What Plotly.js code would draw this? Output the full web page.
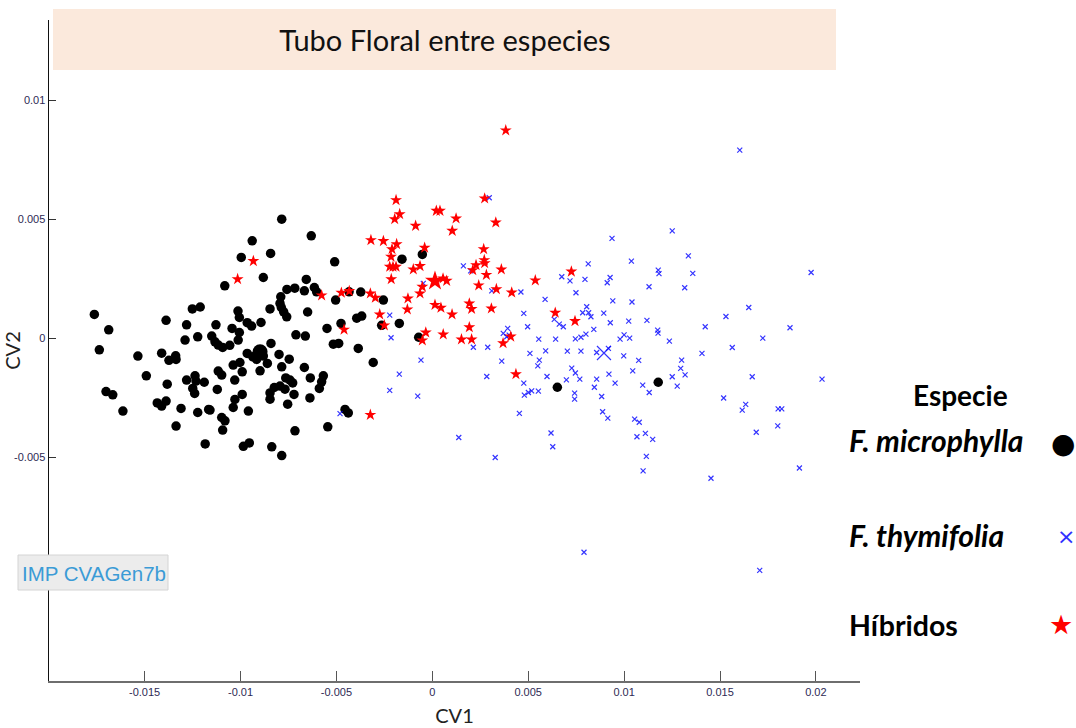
<!DOCTYPE html>
<html>
<head>
<meta charset="utf-8">
<script src="https://cdn.plot.ly/plotly-3.0.1.min.js"></script>
<style>
  html, body { margin: 0; padding: 0; background: #ffffff; }
  #chart { width: 1076px; height: 728px; }
</style>
</head>
<body>
<div id="chart"></div>
<script>
// Canonical variate scores (CV1, CV2) of floral tube shape, by group
const microX = [-0.01762,-0.01687,-0.01736,-0.01535,-0.01491,-0.01701,-0.01666,-0.01613,-0.01411,-0.01388,
  -0.01373,-0.01338,-0.01336,-0.01382,-0.01434,-0.01411,-0.01388,-0.01336,-0.01310,-0.01281,
  -0.01251,-0.01210,-0.01289,-0.01223,-0.01281,-0.01237,-0.01232,-0.01249,-0.01239,-0.01189,
  -0.01223,-0.01166,-0.01128,-0.01150,-0.01133,-0.01116,-0.01121,-0.01184,-0.00785,-0.00631,
  -0.00939,-0.00843,-0.00996,-0.00509,-0.00881,-0.01082,-0.00657,-0.00758,-0.00717,-0.00667,
  -0.00615,-0.00603,-0.00790,-0.00794,-0.00787,-0.00775,-0.00759,-0.00846,-0.00650,-0.00504,
  -0.00373,-0.00434,-0.01013,-0.01006,-0.00965,-0.00942,-0.00893,-0.01044,-0.01006,-0.01012,
  -0.01116,-0.01093,-0.01056,-0.00711,-0.00662,-0.00549,-0.00476,-0.00394,-0.00368,-0.00516,
  -0.00488,-0.00386,-0.00841,-0.00965,-0.00936,-0.00916,-0.00881,-0.00799,-0.00746,-0.00860,
  -0.00785,-0.00667,-0.00898,-0.01003,-0.00991,-0.01038,-0.01098,-0.01030,-0.00764,-0.00742,
  -0.00728,-0.00636,-0.00568,-0.00577,-0.00589,-0.00824,-0.00794,-0.00768,-0.00846,-0.00846,
  -0.00721,-0.00754,-0.00638,-0.00991,-0.01029,-0.01038,-0.01159,-0.00959,-0.01098,-0.01081,
  -0.01093,-0.00716,-0.00545,-0.00455,-0.00438,-0.00985,-0.00954,-0.00837,-0.00785,-0.00308,
  -0.00158,-0.00052,-0.00255,-0.00264,-0.00172,-0.00071,0.00652,0.01178];
const microY = [0.00101,0.00036,-0.00048,-0.00074,-0.00157,-0.00223,-0.00237,-0.00305,-0.00062,0.00076,
  -0.00092,-0.00073,-0.00088,-0.00192,-0.00271,-0.00284,-0.00263,-0.00368,-0.00294,0.00057,
  0.00124,0.00132,-0.00007,0.00007,-0.00175,-0.00157,-0.00179,-0.00210,-0.00231,-0.00184,
  -0.00311,-0.00298,0.00057,0.00010,-0.00014,-0.00137,-0.00214,-0.00443,0.00501,0.00431,
  0.00410,0.00357,0.00340,0.00322,0.00256,0.00221,0.00248,0.00206,0.00211,0.00200,
  0.00214,0.00196,0.00175,0.00147,0.00130,0.00112,0.00091,0.00124,0.00111,0.00161,
  0.00195,0.00196,0.00115,0.00088,0.00066,0.00052,0.00067,0.00042,0.00025,-0.00007,
  -0.00028,-0.00038,-0.00029,0.00015,0.00010,0.00042,0.00063,0.00085,0.00094,-0.00024,
  -0.00021,-0.00042,-0.00021,-0.00063,-0.00077,-0.00088,-0.00074,-0.00067,-0.00087,-0.00105,
  -0.00119,-0.00122,-0.00136,-0.00101,-0.00140,-0.00112,-0.00154,-0.00175,-0.00166,-0.00175,
  -0.00187,-0.00166,-0.00157,-0.00182,-0.00210,-0.00206,-0.00200,-0.00213,-0.00229,-0.00255,
  -0.00235,-0.00276,-0.00250,-0.00235,-0.00256,-0.00290,-0.00301,-0.00305,-0.00332,-0.00346,
  -0.00385,-0.00388,-0.00371,-0.00298,-0.00313,-0.00453,-0.00439,-0.00455,-0.00492,-0.00101,
  0.00333,0.00353,0.00161,0.00055,0.00063,0.00005,-0.00205,-0.00184];

const thymX = [0.00937,0.01038,0.00813,0.01178,0.01182,0.00162,0.00200,0.00675,0.00718,0.00796,
  0.00927,0.00912,0.01130,0.00310,0.00462,0.00749,0.00588,0.00941,0.01041,0.00805,
  0.00784,0.00815,0.00827,0.00894,0.00477,0.00636,0.00662,0.00683,0.00928,0.01024,
  0.01119,0.01175,0.00497,0.00393,0.00370,0.00388,0.00401,0.00842,0.00801,0.00775,
  0.00746,0.00555,0.00643,0.01000,0.00979,0.01029,0.00214,0.00289,0.00591,0.00704,
  0.00775,0.00509,0.00857,0.00918,0.00998,0.00362,0.00558,0.00550,0.01076,0.00727,
  0.00746,0.01045,0.00284,0.00598,0.00699,0.00769,0.00857,0.00921,0.00953,0.00477,
  0.00845,0.01097,0.01131,0.00553,0.00518,0.00501,0.00480,0.00742,0.00742,0.00883,
  0.00454,0.00888,0.00915,0.01055,0.01079,0.00619,0.01111,0.01067,0.01149,0.00138,
  0.00628,0.00328,0.01116,0.01099,0.01603,0.01251,0.01335,0.01358,0.01975,0.01316,
  0.01650,0.01531,0.01423,0.01865,0.01177,0.01236,0.01723,0.01564,0.01406,0.01300,
  0.01295,0.01318,0.01251,0.01277,0.01668,0.02032,0.01519,0.01634,0.01616,0.01803,
  0.01822,0.01801,0.01689,0.01914,0.01453,0.01707,0.00791,0.00297,-0.00047,-0.00222,
  -0.00215,-0.00059,-0.00172,-0.00222,-0.00076,-0.00481];
const thymY = [0.00420,0.00325,0.00313,0.00287,0.00272,0.00305,0.00284,0.00259,0.00242,0.00248,
  0.00256,0.00234,0.00217,0.00200,0.00195,0.00192,0.00164,0.00158,0.00153,0.00133,
  0.00108,0.00108,0.00091,0.00106,0.00105,0.00080,0.00060,0.00049,0.00066,0.00073,
  0.00076,0.00035,0.00049,0.00042,0.00021,0.00007,0.00014,0.00038,0.00018,0.00005,
  -0.00002,-0.00003,-0.00003,0.00015,-0.00003,0.00001,-0.00037,-0.00037,-0.00052,-0.00053,
  -0.00053,-0.00063,-0.00059,-0.00042,-0.00073,-0.00095,-0.00091,-0.00115,-0.00092,-0.00125,
  -0.00145,-0.00136,-0.00160,-0.00160,-0.00174,-0.00171,-0.00171,-0.00150,-0.00188,-0.00188,
  -0.00205,-0.00196,-0.00227,-0.00221,-0.00220,-0.00227,-0.00238,-0.00230,-0.00255,-0.00244,
  -0.00315,-0.00308,-0.00335,-0.00339,-0.00352,-0.00397,-0.00399,-0.00413,-0.00424,-0.00416,
  -0.00455,-0.00500,-0.00495,-0.00556,0.00791,0.00452,0.00347,0.00273,0.00277,0.00213,
  0.00130,0.00092,0.00049,0.00045,0.00022,-0.00011,0.00001,-0.00038,-0.00063,-0.00091,
  -0.00126,-0.00153,-0.00161,-0.00200,-0.00161,-0.00171,-0.00250,-0.00277,-0.00301,-0.00296,
  -0.00296,-0.00367,-0.00394,-0.00544,-0.00587,-0.00974,-0.00898,0.00591,0.00231,0.00098,
  0.00003,-0.00091,-0.00150,-0.00218,-0.00242,-0.00316];

const hibX = [0.00383,-0.00189,-0.00170,-0.00196,0.00021,0.00040,0.00124,-0.00087,0.00104,0.00273,
  0.00331,-0.00320,-0.00255,-0.00186,-0.00210,-0.00040,0.00268,-0.00215,0.00271,0.00273,
  -0.00222,-0.00205,-0.00189,-0.00099,-0.00064,0.00228,0.00211,-0.00214,0.00056,0.00075,
  0.00282,0.00360,-0.00052,-0.00064,0.00242,0.00334,0.00414,0.00537,-0.00474,-0.00433,
  -0.00323,-0.00297,-0.00577,-0.00127,-0.00130,0.00014,0.00045,0.00193,0.00205,0.00308,
  0.00103,-0.00274,0.00641,0.00725,0.00744,-0.00460,-0.00250,-0.00034,-0.00052,0.00057,
  0.00193,0.00152,0.00205,0.00369,0.00409,0.00436,-0.00323,-0.00933,-0.01015];
const hibY = [0.00874,0.00581,0.00522,0.00501,0.00536,0.00536,0.00504,0.00473,0.00452,0.00588,
  0.00487,0.00413,0.00409,0.00396,0.00375,0.00381,0.00375,0.00343,0.00329,0.00316,
  0.00301,0.00301,0.00301,0.00290,0.00304,0.00308,0.00287,0.00249,0.00252,0.00242,
  0.00267,0.00290,0.00217,0.00189,0.00223,0.00207,0.00193,0.00244,0.00192,0.00199,
  0.00189,0.00171,0.00181,0.00168,0.00122,0.00141,0.00129,0.00147,0.00124,0.00126,
  0.00101,0.00101,0.00108,0.00281,0.00073,0.00037,0.00055,0.00025,-0.00008,0.00017,
  0.00047,-0.00004,-0.00004,-0.00020,0.00008,-0.00150,-0.00321,0.00325,0.00249];

// Group means: microphylla, thymifolia, hybrids
const meanX = [-0.00898, 0.00895, 0.00014];
const meanY = [-0.00056, -0.00061, 0.00241];

const groupNames = ['F. microphylla', 'F. thymifolia', 'Híbridos'];
const xTickVals = [-0.015, -0.01, -0.005, 0, 0.005, 0.01, 0.015, 0.02];
const xTickText = ['-0.015', '-0.01', '-0.005', '0', '0.005', '0.01', '0.015', '0.02'];
const yTickVals = [-0.005, 0, 0.005, 0.01];
const yTickText = ['-0.005', '0', '0.005', '0.01'];

// Plot area in pixels (left, right, top, bottom) -> helpers for paper positions
const W = 1076, H = 728;
const PL = 49, PR = 860, PT = 20, PB = 681;
const px = v => (v - PL) / (PR - PL);
const py = v => (PB - v) / (PB - PT);

const CAL = 'Lato, "Open Sans", sans-serif';
const ARIAL = '"Liberation Sans", Arial, sans-serif';

const traces = [
  {
    type: 'scatter', mode: 'markers', name: groupNames[0],
    x: microX, y: microY,
    marker: { symbol: 'circle', size: 9.5, color: '#000000', line: { width: 0 } },
    showlegend: false
  },
  {
    type: 'scatter', mode: 'markers', name: groupNames[1],
    x: thymX, y: thymY,
    marker: { symbol: 'x-thin-open', size: 5, color: 'rgba(0,0,255,0.8)',
              line: { width: 1.2, color: 'rgba(0,0,255,0.8)' } },
    showlegend: false
  },
  {
    type: 'scatter', mode: 'markers', name: groupNames[2],
    x: hibX, y: hibY,
    marker: { symbol: 'star', size: 9, color: '#ff0000', line: { width: 0 } },
    showlegend: false
  },
  // group means, drawn larger
  {
    type: 'scatter', mode: 'markers', name: groupNames[0] + ' (media)',
    x: [meanX[0]], y: [meanY[0]],
    marker: { symbol: 'circle', size: 15, color: '#000000', line: { width: 0 } },
    showlegend: false
  },
  {
    type: 'scatter', mode: 'markers', name: groupNames[1] + ' (media)',
    x: [meanX[1]], y: [meanY[1]],
    marker: { symbol: 'x-thin-open', size: 14, color: 'rgba(0,0,255,0.8)',
              line: { width: 1.2, color: 'rgba(0,0,255,0.8)' } },
    showlegend: false
  },
  {
    type: 'scatter', mode: 'markers', name: groupNames[2] + ' (media)',
    x: [meanX[2]], y: [meanY[2]],
    marker: { symbol: 'star', size: 15, color: '#ff0000', line: { width: 0 } },
    showlegend: false
  }
];

const tickFont = { family: ARIAL, size: 11, color: '#2e2a55' };

const layout = {
  width: W, height: H,
  margin: { l: PL, r: W - PR, t: PT, b: H - PB, pad: 0 },
  paper_bgcolor: '#ffffff', plot_bgcolor: '#ffffff',
  showlegend: false,
  hovermode: false,
  title: {
    text: 'Tubo Floral entre especies',
    x: 445 / W, y: 1 - 41 / H, xanchor: 'center', yanchor: 'middle',
    font: { family: CAL, size: 29, color: '#111111' }
  },
  xaxis: {
    range: [-0.019984, 0.022299],
    showline: true, linecolor: '#6e6e6e', linewidth: 1.5,
    ticks: 'inside', ticklen: 10, tickwidth: 1, tickcolor: '#555555',
    tickvals: xTickVals, ticktext: xTickText, tickfont: tickFont,
    showgrid: false, zeroline: false,
    title: { text: 'CV1', font: { family: CAL, size: 20, color: '#222222' }, standoff: 12 }
  },
  yaxis: {
    range: [-0.014387, 0.013374],
    showline: true, linecolor: '#111111', linewidth: 1.5,
    ticks: 'inside', ticklen: 7, tickwidth: 1, tickcolor: '#333333',
    tickvals: yTickVals, ticktext: yTickText, tickfont: tickFont,
    showgrid: false, zeroline: false,
    title: { text: 'CV2', font: { family: CAL, size: 20, color: '#222222' }, standoff: 10 }
  },
  shapes: [
    // title band
    { type: 'rect', xref: 'paper', yref: 'paper', layer: 'above',
      x0: px(53), x1: px(836), y0: py(70), y1: py(9),
      fillcolor: '#fbe9dc', line: { width: 0 } },
    // label box at lower left
    { type: 'rect', xref: 'paper', yref: 'paper', layer: 'above',
      x0: px(18), x1: px(168), y0: py(590), y1: py(555),
      fillcolor: '#ececec', line: { width: 1, color: '#d4d4d4' } }
  ],
  annotations: [
    { xref: 'paper', yref: 'paper', x: px(20), y: py(573), xanchor: 'left', yanchor: 'middle',
      text: 'IMP CVAGen7b', showarrow: false,
      font: { family: ARIAL, size: 20.5, color: '#3b9bd6' } },
    // key
    { xref: 'paper', yref: 'paper', x: px(960), y: py(395), xanchor: 'center', yanchor: 'middle',
      text: '<b>Especie</b>', showarrow: false,
      font: { family: CAL, size: 28, color: '#000000' } },
    { xref: 'paper', yref: 'paper', x: px(847), y: py(440), xanchor: 'left', yanchor: 'middle',
      text: '<b><i>' + groupNames[0] + '</i></b>', showarrow: false,
      font: { family: CAL, size: 30, color: '#000000' } },
    { xref: 'paper', yref: 'paper', x: px(847), y: py(535), xanchor: 'left', yanchor: 'middle',
      text: '<b><i>' + groupNames[1] + '</i></b>', showarrow: false,
      font: { family: CAL, size: 30, color: '#000000' } },
    { xref: 'paper', yref: 'paper', x: px(847), y: py(625), xanchor: 'left', yanchor: 'middle',
      text: '<b>' + groupNames[2] + '</b>', showarrow: false,
      font: { family: CAL, size: 28.5, color: '#000000' } },
    { xref: 'paper', yref: 'paper', x: px(1063), y: py(443), xanchor: 'center', yanchor: 'middle',
      text: '●', showarrow: false,
      font: { family: '"DejaVu Sans", sans-serif', size: 28, color: '#000000' } },
    { xref: 'paper', yref: 'paper', x: px(1066), y: py(536), xanchor: 'center', yanchor: 'middle',
      text: '×', showarrow: false,
      font: { family: '"DejaVu Sans", sans-serif', size: 22, color: '#3030ff' } },
    { xref: 'paper', yref: 'paper', x: px(1061), y: py(624), xanchor: 'center', yanchor: 'middle',
      text: '★', showarrow: false,
      font: { family: '"DejaVu Sans", sans-serif', size: 27, color: '#ff0000' } }
  ]
};

Plotly.newPlot('chart', traces, layout, { displayModeBar: false, staticPlot: true });
</script>
</body>
</html>
